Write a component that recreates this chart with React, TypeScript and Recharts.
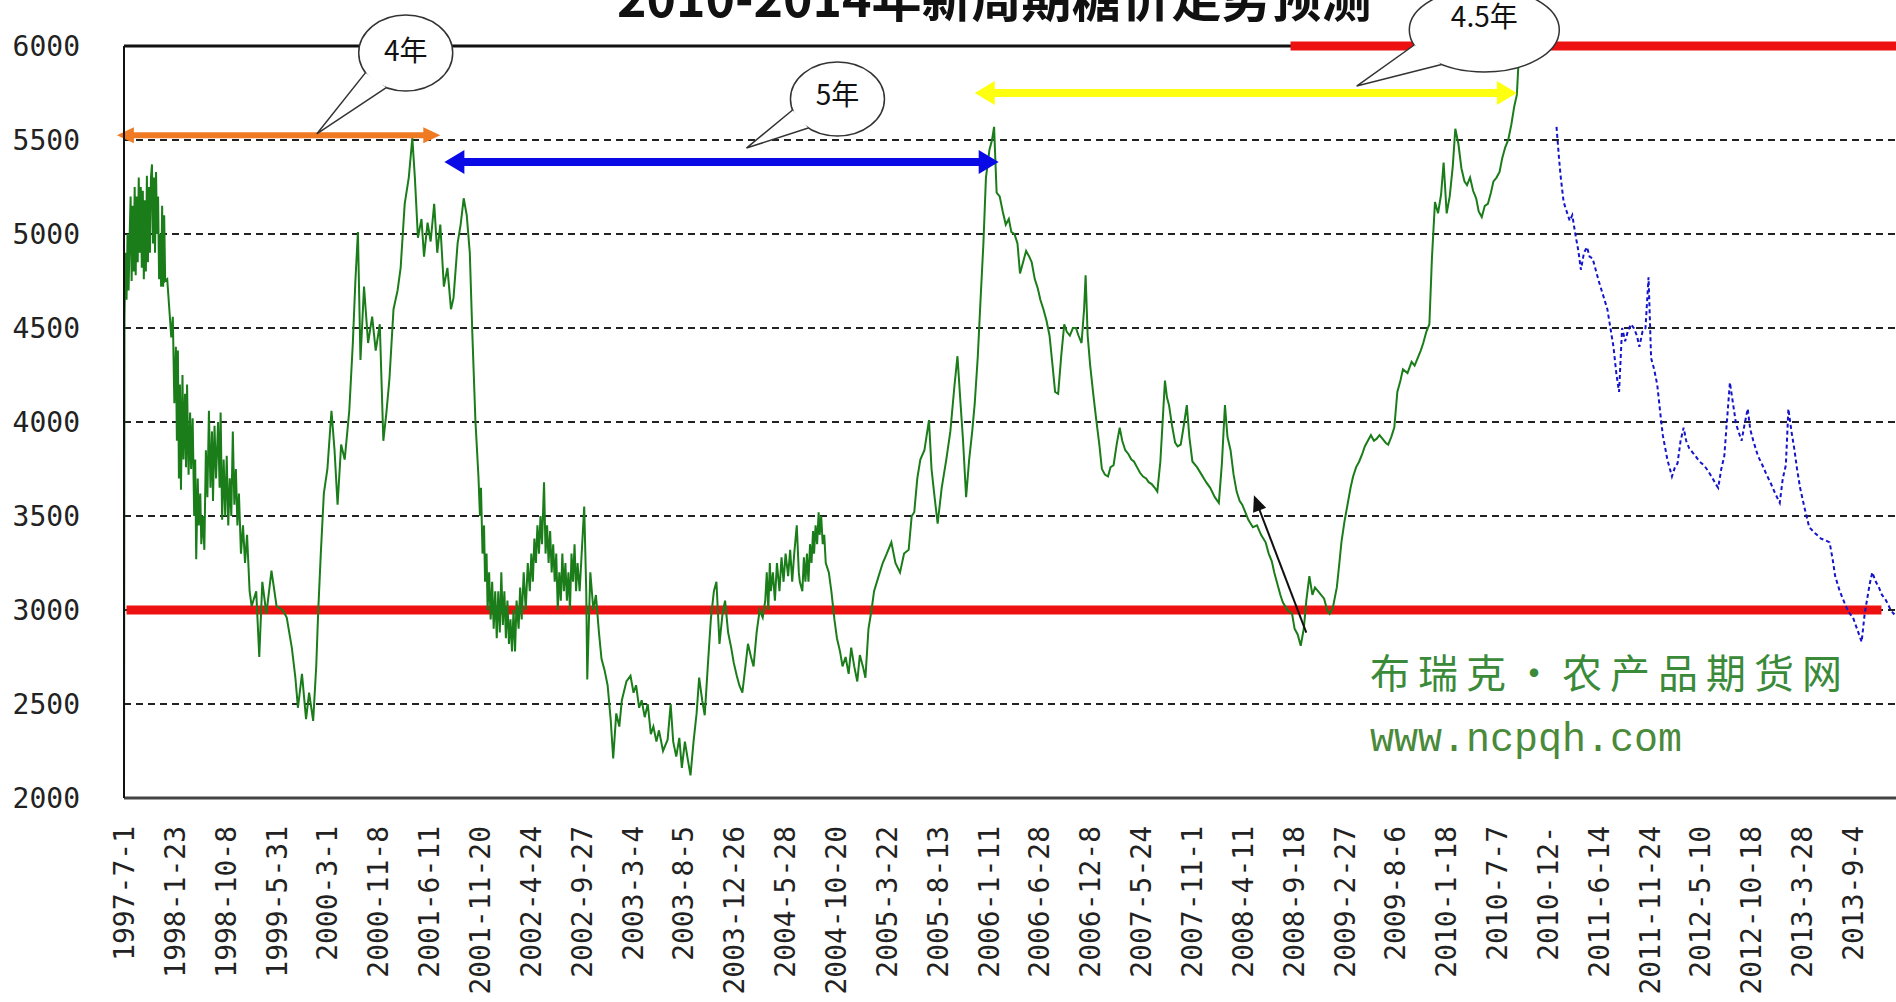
import { LineChart, Line, XAxis, YAxis, CartesianGrid, ReferenceLine } from 'recharts'

// x = position along the date axis (one unit per labelled tick), v = price (元/吨)
const dateLabels = [
  '1997-7-1', '1998-1-23', '1998-10-8', '1999-5-31', '2000-3-1', '2000-11-8', '2001-6-11',
  '2001-11-20', '2002-4-24', '2002-9-27', '2003-3-4', '2003-8-5', '2003-12-26', '2004-5-28',
  '2004-10-20', '2005-3-22', '2005-8-13', '2006-1-11', '2006-6-28', '2006-12-8', '2007-5-24',
  '2007-11-1', '2008-4-11', '2008-9-18', '2009-2-27', '2009-8-6', '2010-1-18', '2010-7-7',
  '2010-12-', '2011-6-14', '2011-11-24', '2012-5-10', '2012-10-18', '2013-3-28', '2013-9-4',
]
const priceTicks = [2000, 2500, 3000, 3500, 4000, 4500, 5000, 5500, 6000]

// actual futures price (green)
const actualPrice: [number, number][] = [
  [0, 2000], [0.01, 4560], [0.03, 4900], [0.05, 4650], [0.07, 5000], [0.09, 4700], [0.11, 4980],
  [0.13, 5200], [0.15, 4750], [0.17, 5150], [0.19, 4800], [0.21, 5250], [0.23, 4780], [0.25, 5200],
  [0.27, 4850], [0.29, 5300], [0.31, 4900], [0.33, 5250], [0.35, 4820], [0.37, 5230], [0.39, 4760],
  [0.41, 5180], [0.43, 4800], [0.45, 5310], [0.47, 4850], [0.49, 5250], [0.51, 4900], [0.53, 5300],
  [0.55, 5370], [0.57, 4950], [0.59, 5300], [0.61, 4900], [0.63, 5330], [0.65, 5000], [0.67, 5200],
  [0.69, 4760], [0.71, 5000], [0.73, 4720], [0.75, 5150], [0.77, 4720], [0.79, 5100], [0.81, 4750],
  [0.85, 4760], [0.93, 4450], [0.96, 4560], [0.99, 4100], [1.02, 4400], [1.04, 3900], [1.06, 4380],
  [1.08, 3700], [1.1, 4200], [1.12, 3640], [1.15, 4250], [1.17, 3800], [1.2, 4150], [1.22, 3760],
  [1.24, 4200], [1.27, 3720], [1.3, 4050], [1.32, 3750], [1.35, 4020], [1.38, 3500], [1.4, 3800],
  [1.42, 3270], [1.45, 3700], [1.47, 3450], [1.5, 3620], [1.52, 3350], [1.55, 3500], [1.58, 3320],
  [1.61, 3850], [1.64, 3600], [1.67, 4060], [1.7, 3650], [1.73, 3950], [1.75, 3580], [1.78, 3980],
  [1.81, 3700], [1.85, 4000], [1.88, 3650], [1.9, 4050], [1.93, 3480], [1.96, 3800], [1.99, 3500],
  [2.02, 3820], [2.05, 3450], [2.08, 3700], [2.11, 3500], [2.14, 3950], [2.17, 3560], [2.2, 3750],
  [2.23, 3450], [2.26, 3620], [2.3, 3300], [2.34, 3450], [2.38, 3250], [2.42, 3400], [2.47, 3100],
  [2.51, 3020], [2.6, 3100], [2.66, 2750], [2.72, 3150], [2.8, 2980], [2.9, 3210], [3.0, 3020],
  [3.12, 3000], [3.2, 2960], [3.3, 2800], [3.37, 2640], [3.42, 2480], [3.5, 2660], [3.58, 2420],
  [3.64, 2560], [3.72, 2410], [3.78, 2700], [3.82, 3000], [3.87, 3300], [3.93, 3620], [4.0, 3750],
  [4.08, 4060], [4.14, 3850], [4.2, 3560], [4.27, 3880], [4.34, 3800], [4.43, 4060], [4.5, 4420],
  [4.55, 4750], [4.6, 5010], [4.65, 4330], [4.72, 4720], [4.8, 4420], [4.88, 4560], [4.95, 4380],
  [5.03, 4520], [5.1, 3900], [5.16, 4050], [5.22, 4230], [5.3, 4600], [5.38, 4700], [5.44, 4820],
  [5.52, 5160], [5.6, 5300], [5.67, 5510], [5.72, 5300], [5.78, 4980], [5.85, 5080], [5.9, 4880],
  [5.97, 5060], [6.03, 4960], [6.1, 5160], [6.16, 4900], [6.22, 5050], [6.29, 4720], [6.36, 4820],
  [6.43, 4600], [6.48, 4660], [6.56, 4950], [6.62, 5050], [6.68, 5190], [6.74, 5100], [6.8, 4900],
  [6.85, 4470], [6.91, 4010], [6.97, 3710], [7.0, 3500], [7.02, 3650], [7.05, 3300], [7.08, 3450],
  [7.1, 3150], [7.13, 3300], [7.15, 3000], [7.18, 3200], [7.21, 2950], [7.24, 3150], [7.27, 2900],
  [7.3, 3100], [7.33, 2850], [7.36, 3100], [7.39, 2880], [7.42, 3200], [7.45, 2920], [7.48, 3100],
  [7.51, 2850], [7.54, 3050], [7.57, 2820], [7.6, 2950], [7.63, 2780], [7.66, 3000], [7.69, 2780],
  [7.72, 3050], [7.76, 2900], [7.79, 3120], [7.82, 2950], [7.86, 3200], [7.9, 3000], [7.94, 3250],
  [7.98, 3100], [8.01, 3300], [8.04, 3150], [8.07, 3380], [8.1, 3250], [8.13, 3450], [8.16, 3300],
  [8.19, 3500], [8.22, 3350], [8.26, 3680], [8.29, 3300], [8.32, 3450], [8.35, 3250], [8.38, 3420],
  [8.41, 3200], [8.44, 3350], [8.47, 3150], [8.5, 3300], [8.53, 3000], [8.56, 3200], [8.59, 3050],
  [8.62, 3300], [8.65, 3100], [8.68, 3250], [8.71, 3050], [8.74, 3200], [8.77, 3000], [8.8, 3300],
  [8.83, 3150], [8.86, 3350], [8.89, 3100], [8.92, 3250], [8.96, 3100], [9.0, 3300], [9.05, 3550],
  [9.09, 3100], [9.11, 2630], [9.17, 3200], [9.23, 3000], [9.28, 3080], [9.34, 2880], [9.39, 2740],
  [9.45, 2680], [9.51, 2600], [9.57, 2420], [9.62, 2210], [9.68, 2450], [9.74, 2380], [9.79, 2520],
  [9.88, 2620], [9.96, 2650], [10.02, 2560], [10.07, 2600], [10.13, 2480], [10.18, 2520],
  [10.24, 2430], [10.3, 2500], [10.36, 2340], [10.41, 2380], [10.47, 2300], [10.52, 2360],
  [10.6, 2250], [10.69, 2310], [10.75, 2500], [10.8, 2300], [10.86, 2220], [10.92, 2320],
  [10.97, 2160], [11.03, 2300], [11.09, 2200], [11.14, 2120], [11.2, 2300], [11.26, 2450],
  [11.31, 2640], [11.37, 2520], [11.42, 2440], [11.48, 2700], [11.54, 2950], [11.6, 3100],
  [11.65, 3150], [11.71, 2820], [11.77, 2980], [11.82, 3050], [11.88, 2880], [11.94, 2800],
  [11.99, 2720], [12.05, 2650], [12.1, 2600], [12.16, 2560], [12.22, 2700], [12.27, 2820],
  [12.33, 2750], [12.38, 2700], [12.44, 2880], [12.5, 3000], [12.56, 2960], [12.61, 3050],
  [12.64, 3200], [12.67, 3000], [12.7, 3250], [12.72, 3100], [12.76, 3200], [12.8, 3050],
  [12.84, 3250], [12.89, 3100], [12.93, 3280], [12.97, 3150], [13.01, 3300], [13.06, 3180],
  [13.1, 3320], [13.14, 3150], [13.18, 3300], [13.23, 3450], [13.27, 3200], [13.29, 3150],
  [13.34, 3100], [13.37, 3280], [13.4, 3150], [13.43, 3300], [13.46, 3150], [13.49, 3350],
  [13.52, 3250], [13.55, 3420], [13.57, 3300], [13.6, 3450], [13.63, 3350], [13.66, 3520],
  [13.68, 3400], [13.71, 3500], [13.74, 3350], [13.77, 3400], [13.8, 3250], [13.86, 3200],
  [13.91, 3100], [13.97, 2950], [14.02, 2850], [14.08, 2780], [14.13, 2700], [14.19, 2750],
  [14.25, 2660], [14.3, 2800], [14.36, 2700], [14.42, 2620], [14.47, 2760], [14.53, 2700],
  [14.58, 2640], [14.64, 2900], [14.7, 3000], [14.75, 3100], [14.84, 3180], [14.92, 3250],
  [15.0, 3300], [15.09, 3360], [15.17, 3250], [15.26, 3200], [15.34, 3300], [15.43, 3320],
  [15.49, 3500], [15.54, 3520], [15.6, 3700], [15.66, 3800], [15.74, 3850], [15.83, 4010],
  [15.88, 3750], [15.94, 3600], [16.0, 3460], [16.08, 3650], [16.17, 3800], [16.25, 3950],
  [16.33, 4190], [16.39, 4350], [16.45, 4100], [16.5, 3900], [16.56, 3600], [16.62, 3800],
  [16.68, 3950], [16.73, 4100], [16.79, 4350], [16.84, 4630], [16.9, 4950], [16.95, 5300],
  [17.02, 5450], [17.07, 5500], [17.11, 5570], [17.16, 5220], [17.22, 5200], [17.28, 5120],
  [17.34, 5050], [17.4, 5080], [17.45, 5010], [17.51, 5000], [17.57, 4950], [17.62, 4790],
  [17.68, 4850], [17.74, 4910], [17.8, 4880], [17.85, 4850], [17.91, 4760], [17.97, 4710],
  [18.02, 4650], [18.08, 4600], [18.14, 4540], [18.2, 4460], [18.26, 4300], [18.31, 4160],
  [18.37, 4150], [18.43, 4350], [18.49, 4520], [18.54, 4480], [18.6, 4460], [18.66, 4500],
  [18.72, 4500], [18.77, 4460], [18.83, 4420], [18.88, 4600], [18.91, 4780], [18.95, 4460],
  [19.0, 4300], [19.06, 4150], [19.12, 4010], [19.18, 3880], [19.23, 3750], [19.29, 3720],
  [19.35, 3710], [19.4, 3760], [19.46, 3770], [19.52, 3880], [19.58, 3970], [19.63, 3900],
  [19.69, 3850], [19.75, 3830], [19.81, 3800], [19.86, 3790], [19.92, 3760], [19.98, 3730],
  [20.04, 3710], [20.1, 3700], [20.15, 3680], [20.21, 3670], [20.27, 3650], [20.32, 3630],
  [20.38, 3790], [20.42, 3980], [20.47, 4220], [20.51, 4130], [20.55, 4090], [20.61, 3980],
  [20.67, 3890], [20.72, 3870], [20.78, 3880], [20.84, 3980], [20.9, 4090], [20.95, 3920],
  [21.01, 3790], [21.1, 3760], [21.19, 3720], [21.28, 3680], [21.36, 3650], [21.45, 3600],
  [21.53, 3570], [21.59, 3780], [21.65, 4090], [21.7, 3920], [21.76, 3850], [21.82, 3720],
  [21.88, 3630], [21.94, 3580], [21.99, 3560], [22.05, 3520], [22.11, 3480], [22.2, 3440],
  [22.28, 3450], [22.36, 3400], [22.45, 3360], [22.51, 3300], [22.57, 3260], [22.62, 3200],
  [22.68, 3140], [22.74, 3080], [22.79, 3040], [22.88, 3000], [22.97, 2980], [23.02, 2900],
  [23.08, 2870], [23.14, 2810], [23.2, 2900], [23.25, 3050], [23.31, 3180], [23.37, 3080],
  [23.42, 3120], [23.48, 3100], [23.54, 3080], [23.6, 3060], [23.66, 3000], [23.71, 2980],
  [23.77, 3010], [23.85, 3120], [23.9, 3250], [23.94, 3360], [24.0, 3470], [24.06, 3560],
  [24.12, 3650], [24.17, 3710], [24.23, 3760], [24.29, 3790], [24.35, 3830], [24.4, 3870],
  [24.46, 3900], [24.52, 3930], [24.58, 3900], [24.63, 3910], [24.69, 3930], [24.75, 3910],
  [24.81, 3890], [24.86, 3880], [24.92, 3920], [24.98, 3970], [25.04, 4160], [25.1, 4220],
  [25.15, 4280], [25.24, 4260], [25.32, 4320], [25.38, 4300], [25.44, 4340], [25.5, 4380],
  [25.55, 4420], [25.61, 4480], [25.67, 4520], [25.72, 4870], [25.78, 5170], [25.84, 5110],
  [25.9, 5210], [25.95, 5380], [26.01, 5110], [26.07, 5200], [26.13, 5360], [26.18, 5560],
  [26.24, 5480], [26.3, 5350], [26.36, 5280], [26.41, 5260], [26.47, 5300], [26.53, 5230],
  [26.59, 5190], [26.64, 5120], [26.7, 5090], [26.76, 5150], [26.82, 5160], [26.88, 5220],
  [26.93, 5280], [26.99, 5300], [27.05, 5330], [27.1, 5400], [27.16, 5460], [27.22, 5500],
  [27.28, 5580], [27.34, 5680], [27.39, 5740], [27.44, 6000],
]

// forecast path (blue dashed)
const forecastPrice: [number, number][] = [
  [28.17, 5570], [28.22, 5400], [28.25, 5310], [28.31, 5170], [28.37, 5120], [28.43, 5070],
  [28.48, 5100], [28.54, 5000], [28.6, 4910], [28.65, 4810], [28.71, 4900], [28.77, 4930],
  [28.82, 4880], [28.88, 4870], [29.0, 4750], [29.08, 4680], [29.17, 4600], [29.23, 4500],
  [29.29, 4400], [29.35, 4250], [29.4, 4160], [29.46, 4500], [29.52, 4430], [29.57, 4480],
  [29.63, 4520], [29.69, 4500], [29.75, 4460], [29.8, 4400], [29.86, 4480], [29.92, 4500],
  [29.98, 4770], [30.03, 4340], [30.09, 4280], [30.15, 4200], [30.21, 4050], [30.26, 3930],
  [30.35, 3800], [30.44, 3710], [30.5, 3760], [30.55, 3780], [30.61, 3900], [30.67, 3970],
  [30.72, 3900], [30.78, 3860], [30.84, 3840], [30.9, 3820], [30.98, 3790], [31.07, 3770],
  [31.15, 3740], [31.24, 3700], [31.3, 3670], [31.35, 3650], [31.41, 3750], [31.47, 3820],
  [31.52, 4000], [31.58, 4210], [31.64, 4100], [31.7, 3990], [31.76, 3940], [31.81, 3900],
  [31.87, 3990], [31.93, 4070], [31.98, 3960], [32.04, 3900], [32.13, 3820], [32.22, 3770],
  [32.3, 3720], [32.39, 3670], [32.47, 3620], [32.56, 3570], [32.62, 3700], [32.68, 3770],
  [32.73, 4070], [32.79, 3950], [32.85, 3850], [32.9, 3750], [32.96, 3650], [33.05, 3540],
  [33.14, 3440], [33.25, 3410], [33.37, 3380], [33.46, 3370], [33.54, 3360], [33.6, 3270],
  [33.65, 3180], [33.74, 3100], [33.83, 3040], [33.91, 2990], [34.0, 2960], [34.08, 2900],
  [34.17, 2830], [34.23, 2980], [34.28, 3060], [34.33, 3140], [34.38, 3200], [34.45, 3150],
  [34.51, 3120], [34.57, 3080], [34.63, 3060], [34.69, 3030], [34.74, 3000], [34.8, 2980],
  [34.9, 3010],
]

// support / resistance and cycle spans
const supportLine = { from: 0.05, to: 34.56, price: 3000 }
const resistanceLine = { from: 22.94, to: 35.2, price: 6000 }
const cycles = [
  { from: -0.14, to: 6.22, price: 5525, color: '#f07a22', width: 6, head: 17, half: 8 },
  { from: 6.3, to: 17.2, price: 5383, color: '#0a0ae6', width: 8, head: 20, half: 12 },
  { from: 16.73, to: 27.39, price: 5750, color: '#ffff10', width: 8, head: 20, half: 12 },
]
// callouts: tail tip -> bubble centre
const callouts = [
  { text: '4年', tip: [3.79, 5532], at: [5.54, 5963], rx: 47, ry: 38, dy: -2 },
  { text: '5年', tip: [12.24, 5457], at: [14.03, 5718], rx: 47, ry: 37, dy: -4 },
  { text: '4.5年', tip: [24.24, 5787], at: [26.75, 6085], rx: 75, ry: 42, dy: -13 },
]
const pointer = { tail: [23.25, 2880], tip: [22.22, 3610] }

const greenData = actualPrice.map(([x, v]) => ({ x, v }))
const blueData = forecastPrice.map(([x, v]) => ({ x, v }))

function head(tx: number, ty: number, fx: number, fy: number, len: number, half: number, color: string) {
  const d = Math.hypot(tx - fx, ty - fy) || 1
  const ux = (tx - fx) / d
  const uy = (ty - fy) / d
  const bx = tx - ux * len
  const by = ty - uy * len
  return (
    <polygon
      points={`${tx},${ty} ${bx - uy * half},${by + ux * half} ${bx + uy * half},${by - ux * half}`}
      fill={color}
    />
  )
}

const arrowShape = (color: string, width: number, len: number, half: number, both: boolean) => (p: any) => {
  const { x1, y1, x2, y2 } = p
  const d = Math.hypot(x2 - x1, y2 - y1) || 1
  const ux = (x2 - x1) / d
  const uy = (y2 - y1) / d
  const s = both ? len * 0.6 : 0
  return (
    <g>
      <line
        x1={x1 + ux * s} y1={y1 + uy * s}
        x2={x2 - ux * len * 0.6} y2={y2 - uy * len * 0.6}
        stroke={color} strokeWidth={width}
      />
      {both && head(x1, y1, x2, y2, len, half, color)}
      {head(x2, y2, x1, y1, len, half, color)}
    </g>
  )
}

const calloutShape = (text: string, rx: number, ry: number, dy: number) => (p: any) => {
  const { x1: tx, y1: ty, x2: cx, y2: cy } = p
  const a = Math.atan2((ty - cy) / ry, (tx - cx) / rx)
  const sp = 0.3
  const b1 = `${cx + rx * Math.cos(a - sp)},${cy + ry * Math.sin(a - sp)}`
  const b2 = `${cx + rx * Math.cos(a + sp)},${cy + ry * Math.sin(a + sp)}`
  return (
    <g>
      <ellipse cx={cx} cy={cy} rx={rx} ry={ry} fill="#fff" stroke="#333" strokeWidth={1.5} />
      <path d={`M${b1} L${tx},${ty} L${b2}`} fill="#fff" stroke="#333" strokeWidth={1.5} />
      <text
        x={cx} y={cy + dy} dy="0.36em" textAnchor="middle"
        fontFamily="'Noto Sans CJK SC', sans-serif" fontSize={28} fill="#111"
      >
        {text}
      </text>
    </g>
  )
}

function DateTick(props: any) {
  const { x, y, payload } = props
  return (
    <text
      x={x} y={y} dy="0.36em" textAnchor="end" transform={`rotate(-90 ${x} ${y})`}
      fontFamily="'DejaVu Sans Mono', monospace" fontSize={28} fill="#222"
    >
      {dateLabels[payload.value]}
    </text>
  )
}

export default function App() {
  return (
    <div style={{ position: 'fixed', left: 0, top: 0, width: 1896, height: 1002, overflow: 'hidden', background: '#fff' }}>
      <LineChart width={1914} height={1002} margin={{ top: 46, right: 0, bottom: 0, left: 0 }}>
        <CartesianGrid vertical={false} stroke="#222" strokeWidth={2} strokeDasharray="7 5" />
        <XAxis
          dataKey="x" type="number" domain={[0, 35.2]} allowDataOverflow
          ticks={dateLabels.map((_, i) => i)} interval={0}
          height={204} tickLine={false} tickMargin={22} tick={<DateTick />}
          axisLine={{ stroke: '#444', strokeWidth: 3 }}
        />
        <YAxis
          domain={[2000, 6000]} ticks={priceTicks} allowDataOverflow width={124}
          tickLine={false} tickMargin={38}
          tick={{ fill: '#222', fontSize: 28, fontFamily: "'DejaVu Sans Mono', monospace" }}
          axisLine={{ stroke: '#111', strokeWidth: 2 }}
        />
        <ReferenceLine y={6000} stroke="#111" strokeWidth={3} ifOverflow="visible" />
        <ReferenceLine
          segment={[{ x: supportLine.from, y: supportLine.price }, { x: supportLine.to, y: supportLine.price }]}
          stroke="#ee1111" strokeWidth={9} ifOverflow="visible"
        />
        <ReferenceLine
          segment={[{ x: resistanceLine.from, y: resistanceLine.price }, { x: resistanceLine.to, y: resistanceLine.price }]}
          stroke="#ee1111" strokeWidth={9} ifOverflow="visible"
        />
        <Line
          data={greenData} dataKey="v" type="linear" stroke="#1a7d1a" strokeWidth={2}
          dot={false} activeDot={false} isAnimationActive={false}
        />
        <Line
          data={blueData} dataKey="v" type="linear" stroke="#1414cc" strokeWidth={2}
          strokeDasharray="4 3" dot={false} activeDot={false} isAnimationActive={false}
        />
        {cycles.map((c, i) => (
          <ReferenceLine
            key={`cyc${i}`}
            segment={[{ x: c.from, y: c.price }, { x: c.to, y: c.price }]}
            ifOverflow="visible"
            shape={arrowShape(c.color, c.width, c.head, c.half, true)}
          />
        ))}
        <ReferenceLine
          segment={[{ x: pointer.tail[0], y: pointer.tail[1] }, { x: pointer.tip[0], y: pointer.tip[1] }]}
          ifOverflow="visible"
          shape={arrowShape('#111', 2, 16, 7, false)}
        />
        {callouts.map((c, i) => (
          <ReferenceLine
            key={`call${i}`}
            segment={[{ x: c.tip[0], y: c.tip[1] }, { x: c.at[0], y: c.at[1] }]}
            ifOverflow="visible"
            shape={calloutShape(c.text, c.rx, c.ry, c.dy)}
          />
        ))}
      </LineChart>
      <svg width={1896} height={1002} style={{ position: 'absolute', left: 0, top: 0, pointerEvents: 'none' }}>
        <text x={617} y={17} fontFamily="'Noto Sans CJK SC', sans-serif" fontWeight={700} fontSize={50} fill="#111">
          2010-2014年新周期糖价走势预测
        </text>
        <text x={1370} y={688} fontFamily="'Noto Sans CJK SC', sans-serif" fontSize={40} letterSpacing={8} fill="#3a8a3a">
          布瑞克·农产品期货网
        </text>
        <text x={1370} y={751} fontFamily="'Liberation Mono', monospace" fontSize={40} fill="#4a8a3a">
          www.ncpqh.com
        </text>
      </svg>
    </div>
  )
}
